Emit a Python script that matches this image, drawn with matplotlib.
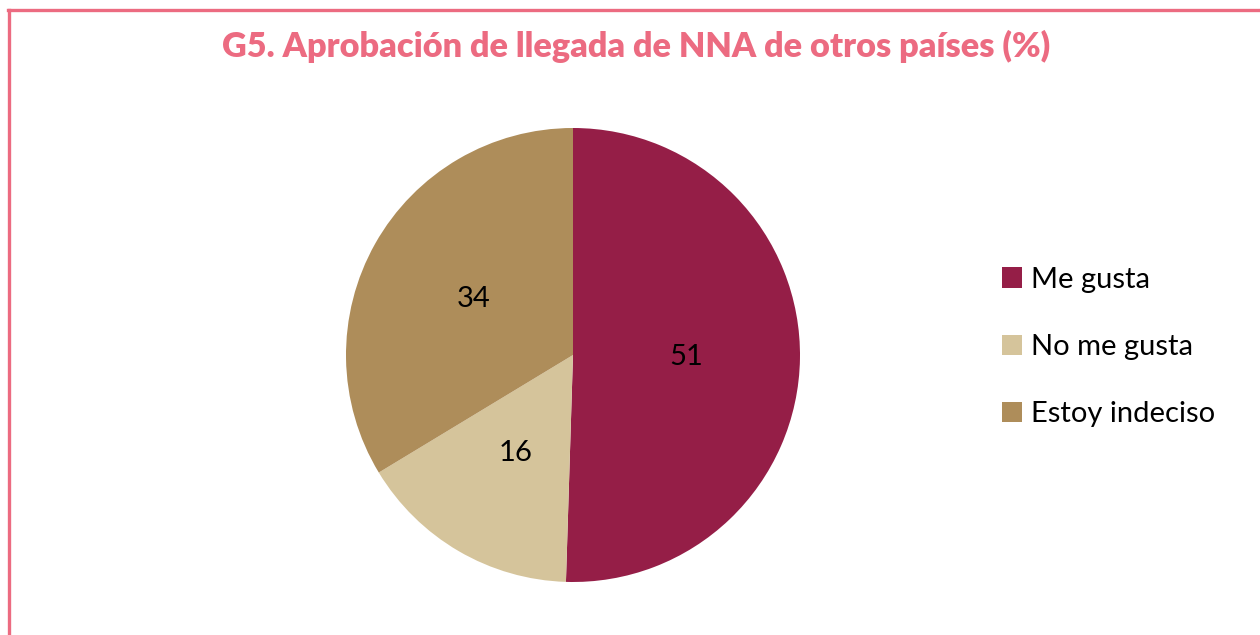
import matplotlib.pyplot as plt
from matplotlib.lines import Line2D
from matplotlib.patches import Patch

# Data
categories = ['Me gusta', 'No me gusta', 'Estoy indeciso']
values = [51, 16, 34]
colors = ['#951E47', '#D5C49B', '#AE8D5A']

title = 'G5. Aprobación de llegada de NNA de otros países (%)'
pink = '#EC6B81'

W, H = 1260, 635
fig = plt.figure(figsize=(W / 100, H / 100), dpi=100)
fig.patch.set_facecolor('white')

# pink frame (top and left edges)
fig.add_artist(Line2D([8 / W, 1], [1 - 10 / H, 1 - 10 / H], color=pink, lw=2.4,
                      transform=fig.transFigure))
fig.add_artist(Line2D([9 / W, 9 / W], [0, 1 - 10 / H], color=pink, lw=2.4,
                      transform=fig.transFigure))

fig.text(636 / W, 1 - 46 / H, title, ha='center', va='center', fontsize=24.7,
         fontweight='heavy', color=pink, family='Lato')

# pie
r = 227
cx, cy = 573, 355
ax = fig.add_axes([(cx - r) / W, (H - cy - r) / H, 2 * r / W, 2 * r / H])
wedges, texts = ax.pie(values, colors=colors, startangle=90, counterclock=False,
                       labels=[str(v) for v in values], labeldistance=0.5,
                       textprops=dict(fontsize=21, family='Lato', color='black'))
for t in texts:
    t.set_horizontalalignment('center')
ax.set_xlim(-1, 1)
ax.set_ylim(-1, 1)

handles = [Patch(facecolor=c, edgecolor='none') for c in colors]
fig.legend(handles, categories, loc='upper left', bbox_to_anchor=(987 / W, 1 - 252 / H),
           frameon=False, prop=dict(family='Lato', size=21), handlelength=0.7,
           handleheight=0.7, handletextpad=0.3, labelspacing=1.42, borderpad=0)

fig.savefig('out.png', dpi=100, facecolor='white')
